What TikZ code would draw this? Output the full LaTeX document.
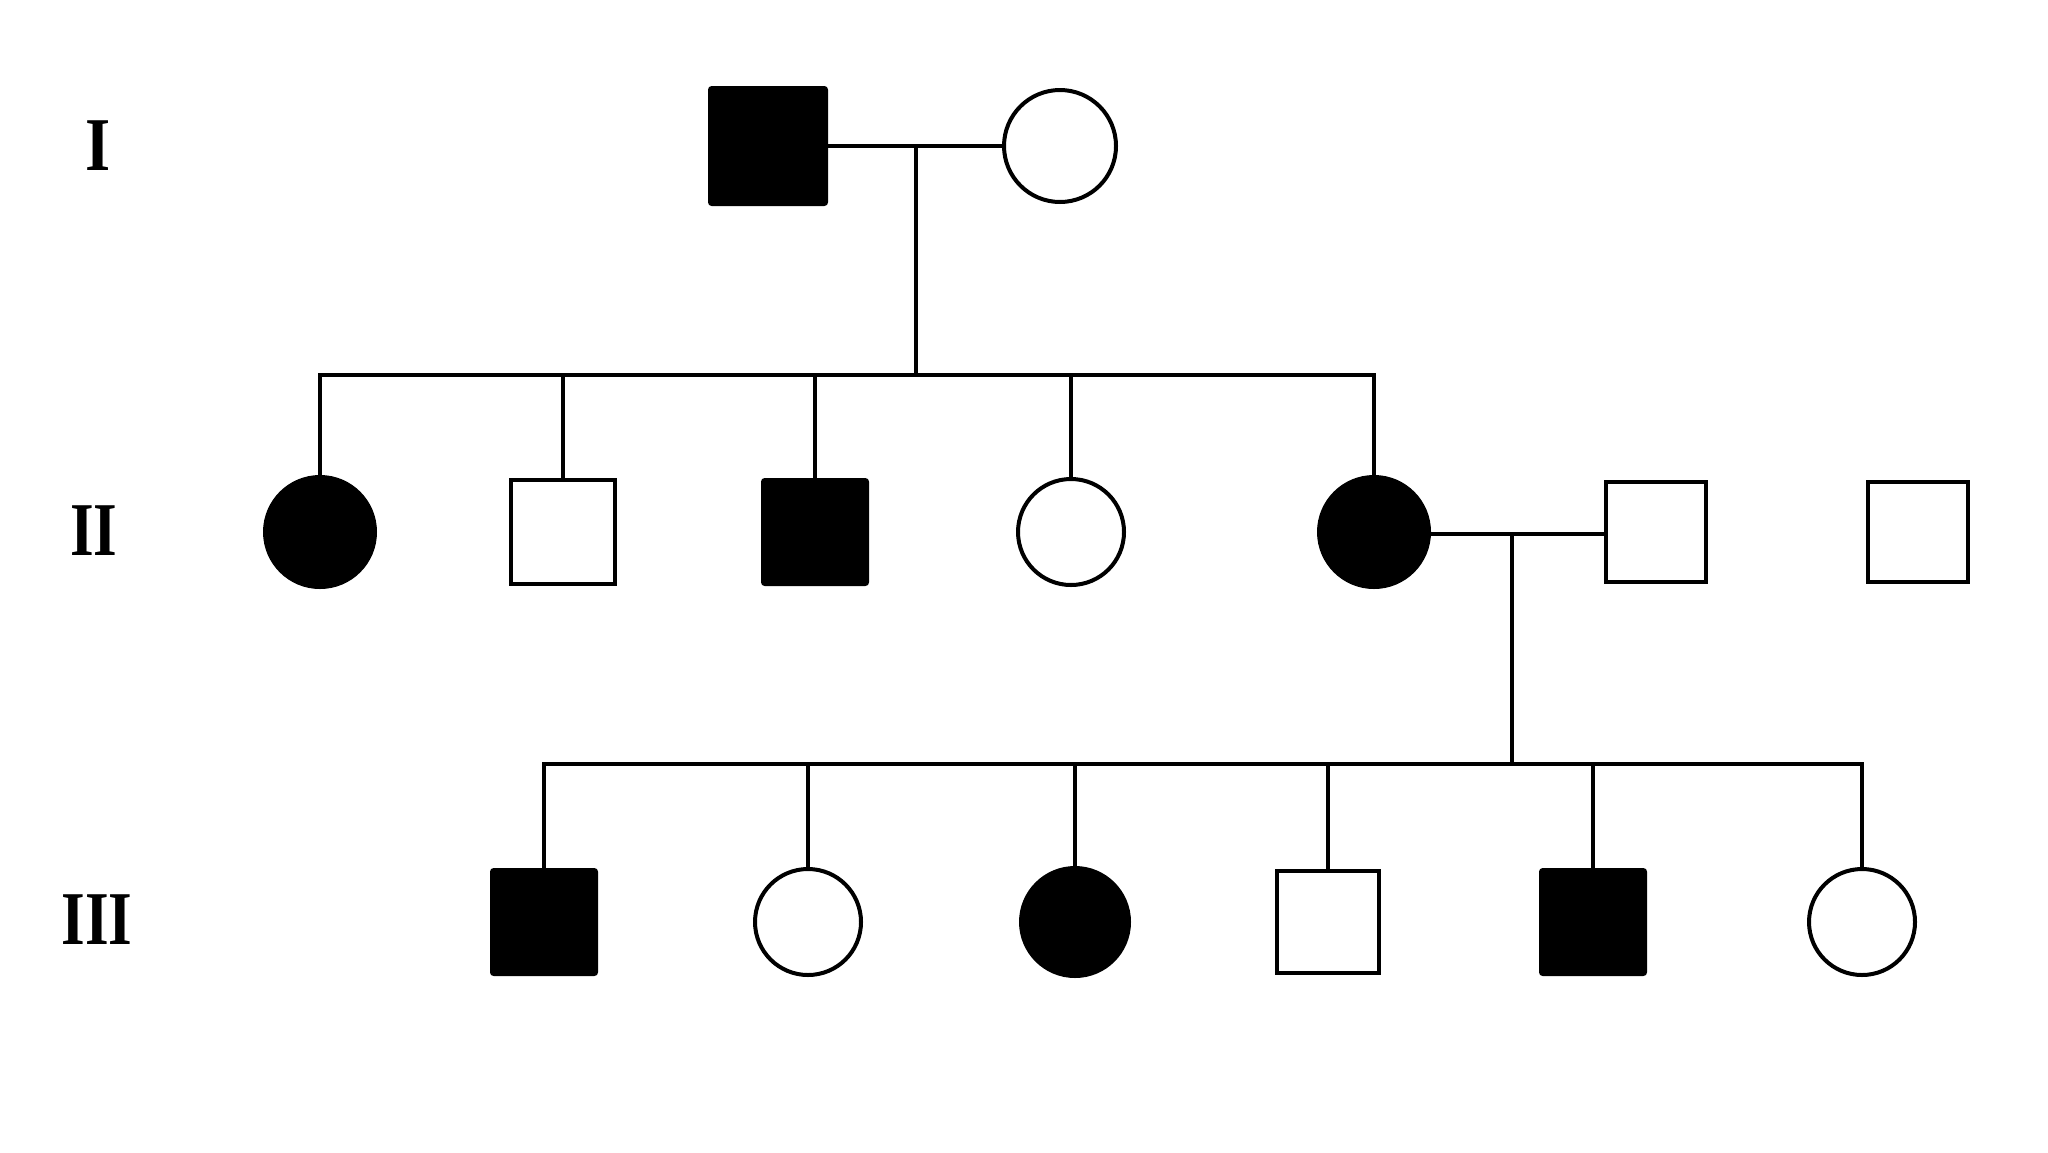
\documentclass[tikz,border=0pt]{standalone}
\usepackage{fontspec}
\setmainfont{Liberation Serif}
\begin{document}
\begin{tikzpicture}[x=0.5pt,y=-0.5pt,
  person/.style={inner sep=0pt,outer sep=0pt,line width=2pt,draw=black},
  male/.style={person,rectangle,minimum size=#1},
  female/.style={person,circle,minimum size=#1},
  aff/.style={fill=black},
  una/.style={fill=white},
  link/.style={line width=1.9pt,line cap=rect},
  gen/.style={font=\fontsize{38}{40}\selectfont\bfseries,inner sep=0pt}]
\useasboundingbox[fill=white] (0,0) rectangle (2048,1152);
% labels
\node[gen] (gI) at (98,146) {\scalebox{0.85}[1]{I}};
\node[gen] (gII) at (94,531) {\scalebox{0.8}[1]{II}};
\node[gen] (gIII) at (97,920) {\scalebox{0.8}[1]{III}};
% generation I
\node[male=58pt,aff,rounded corners=1pt] (a1) at (768,146) {};
\node[female=56pt,una] (a2) at (1060,146) {};
% generation II
\node[female=55pt,aff] (b1) at (320,532) {};
\node[male=52pt,una] (b2) at (563,532) {};
\node[male=52pt,aff,rounded corners=1pt] (b3) at (815,532) {};
\node[female=53pt,una] (b4) at (1071,532) {};
\node[female=55pt,aff] (b5) at (1374,532) {};
\node[male=50pt,una] (b6) at (1656,532) {};
\node[male=50pt,una] (b7) at (1918,532) {};
% generation III
\node[male=52pt,aff,rounded corners=1pt] (c1) at (544,922) {};
\node[female=53pt,una] (c2) at (808,922) {};
\node[female=54pt,aff] (c3) at (1075,922) {};
\node[male=51pt,una] (c4) at (1328,922) {};
\node[male=52pt,aff,rounded corners=1pt] (c5) at (1593,922) {};
\node[female=53pt,una] (c6) at (1862,922) {};
% junction coordinates
\coordinate (mI) at (916,146);
\coordinate (sI) at (916,375);
\coordinate (mII) at (1512,534);
\coordinate (sII) at (1512,764);
% generation I connectors
\draw[link] (a1.east) -- (a2.west);
\draw[link] (mI) -- (sI);
\draw[link] (b1 |- sI) -- (b5 |- sI);
\foreach \n in {b1,b2,b3,b4,b5} \draw[link] (\n |- sI) -- (\n.north);
% generation II connectors
\draw[link] (b5.east |- mII) -- (b6.west |- mII);
\draw[link] (mII) -- (sII);
\draw[link] (c1 |- sII) -- (c6 |- sII);
\foreach \n in {c1,c2,c3,c4,c5,c6} \draw[link] (\n |- sII) -- (\n.north);
\end{tikzpicture}
\end{document}
